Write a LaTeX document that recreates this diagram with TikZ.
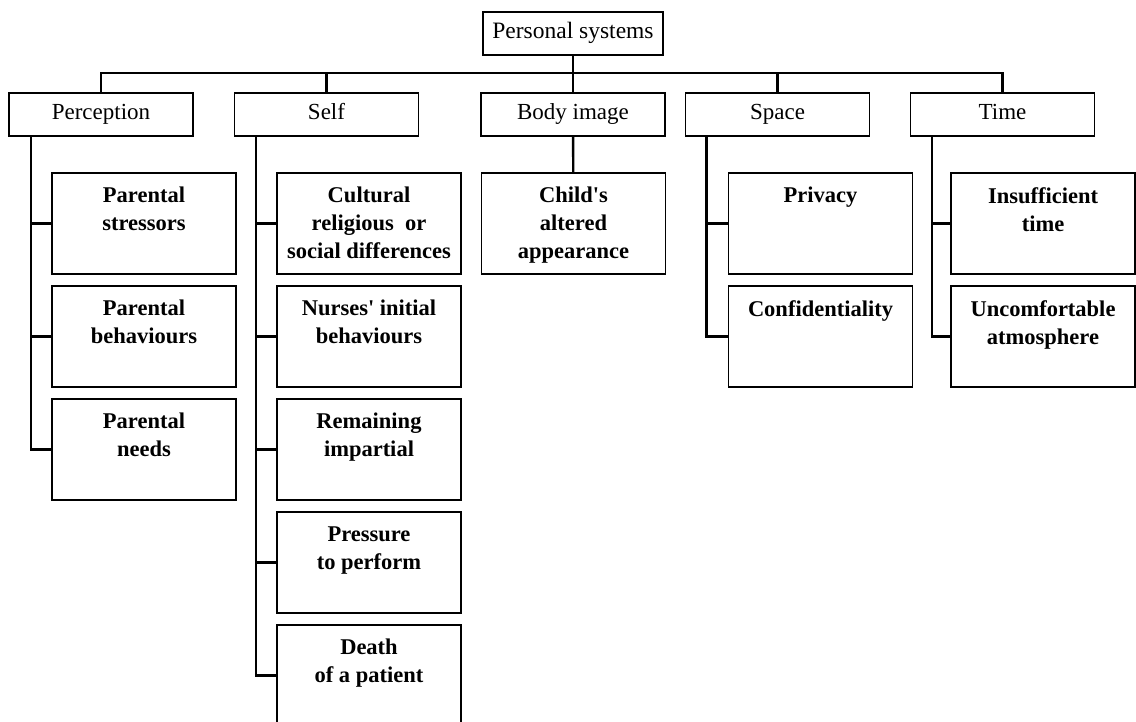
\documentclass[tikz,border=0pt]{standalone}
\usepackage{fontspec}
\setmainfont{Liberation Serif}
\begin{document}
\begin{tikzpicture}[x=1pt, y=-1pt,
  topbox/.style={draw, line width=1.8pt, minimum width=180pt, minimum height=43pt, inner sep=0pt, text height=16pt, text depth=5pt, font=\fontsize{23.5}{28}\selectfont},
  catbox/.style={draw, line width=1.8pt, minimum width=184pt, minimum height=43pt, inner sep=0pt, text height=16pt, text depth=5pt, font=\fontsize{23}{28}\selectfont},
  subbox/.style={draw, line width=1.8pt, minimum width=184pt, minimum height=101pt, inner sep=0pt},
  subtext/.style={anchor=north, yshift=-15pt, inner sep=0pt, align=center, font=\bfseries\fontsize{22.5}{28}\selectfont},
  link/.style={line width=2.4pt}]
\useasboundingbox (0,0) rectangle (1136,722);
% top and categories
\node[topbox] (root) at (573,33.5) {Personal systems};
\node[catbox] (perc) at (101,114.5) {Perception};
\node[catbox] (self) at (326.5,114.5) {Self};
\node[catbox] (body) at (573,114.5) {Body image};
\node[catbox] (space) at (777.5,114.5) {Space};
\node[catbox] (time) at (1002.5,114.5) {Time};
\coordinate (bus) at (573,73.3);
% sub boxes
\node[subbox, label={[subtext]north:{Parental\\stressors}}] (p1) at (144,223.5) {};
\node[subbox, label={[subtext]north:{Parental\\behaviours}}] (p2) at (144,336.5) {};
\node[subbox, label={[subtext]north:{Parental\\needs}}] (p3) at (144,449.5) {};
\node[subbox, label={[subtext]north:{Cultural\\religious\ \ or\\social differences}}] (s1) at (369,223.5) {};
\node[subbox, label={[subtext]north:{Nurses\textquotesingle\ initial\\behaviours}}] (s2) at (369,336.5) {};
\node[subbox, label={[subtext]north:{Remaining\\impartial}}] (s3) at (369,449.5) {};
\node[subbox, label={[subtext]north:{Pressure\\to perform}}] (s4) at (369,562.5) {};
\node[subbox, label={[subtext]north:{Death\\of a patient}}] (s5) at (369,675.5) {};
\node[subbox, label={[subtext]north:{Child\textquotesingle s\\altered\\appearance}}] (b1) at (573.5,223.5) {};
\node[subbox, label={[subtext]north:{Privacy}}] (sp1) at (820.5,223.5) {};
\node[subbox, label={[subtext]north:{Confidentiality}}] (sp2) at (820.5,336.5) {};
\node[subbox, label={[subtext]north:{Insufficient\\time}}] (t1) at (1043,223.5) {};
\node[subbox, label={[subtext]north:{Uncomfortable\\atmosphere}}] (t2) at (1043,336.5) {};
% bus and drops
\draw[link] (root) -- (bus);
\draw[link] (perc.north) |- (bus) -| (time.north);
\draw[link] (self.north) -- (self.north |- bus);
\draw[link] (body.north) -- (body.north |- bus);
\draw[link] (space.north) -- (space.north |- bus);
\draw[link] (body) -- (b1);
% trunks
\coordinate (ptrunk) at ([xshift=23pt]perc.south west);
\coordinate (strunk) at ([xshift=22.5pt]self.south west);
\coordinate (sptrunk) at ([xshift=22pt]space.south west);
\coordinate (ttrunk) at ([xshift=22.5pt]time.south west);
\draw[link] (ptrunk) |- (p3.west);
\draw[link] (p1.west) -- (p1.west -| ptrunk);
\draw[link] (p2.west) -- (p2.west -| ptrunk);
\draw[link] (strunk) |- (s5.west);
\draw[link] (s1.west) -- (s1.west -| strunk);
\draw[link] (s2.west) -- (s2.west -| strunk);
\draw[link] (s3.west) -- (s3.west -| strunk);
\draw[link] (s4.west) -- (s4.west -| strunk);
\draw[link] (sptrunk) |- (sp2.west);
\draw[link] (sp1.west) -- (sp1.west -| sptrunk);
\draw[link] (ttrunk) |- (t2.west);
\draw[link] (t1.west) -- (t1.west -| ttrunk);
\end{tikzpicture}
\end{document}
